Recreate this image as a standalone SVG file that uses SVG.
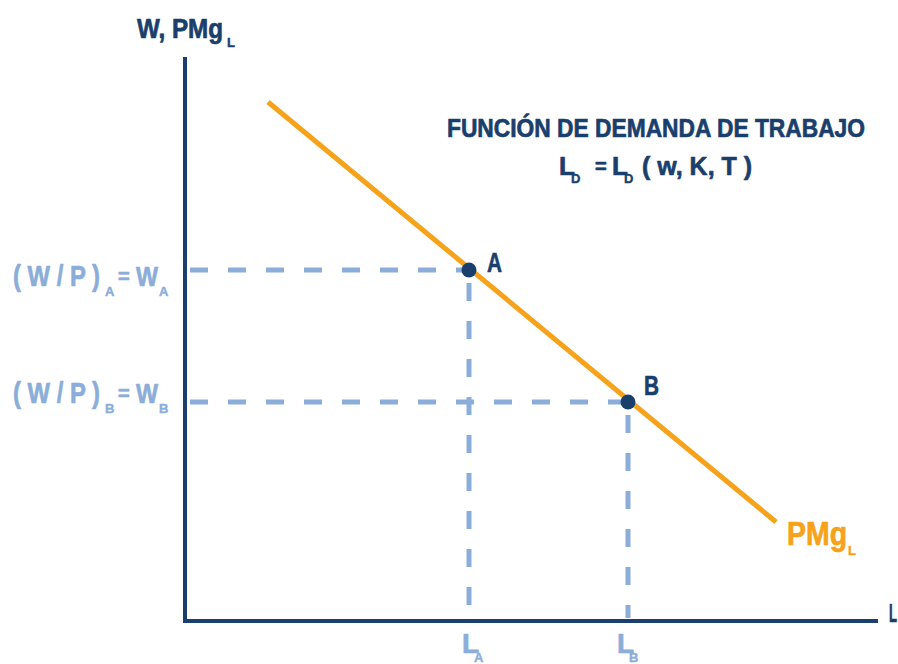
<svg xmlns="http://www.w3.org/2000/svg" width="898" height="664" viewBox="0 0 898 664">
<style>
text{font-family:"Liberation Sans",Arial,sans-serif;font-weight:bold;stroke-width:0.7;stroke-linejoin:round}
.navy{fill:#1b3f6c;stroke:#1b3f6c}
.light{fill:#8badd9;stroke:#8badd9}
.orange{fill:#f7a21b;stroke:#f7a21b}
.axis{stroke:#1b3f6c;stroke-width:4;fill:none}
.dash{stroke:#8badd9;stroke-width:5;stroke-dasharray:18 20;fill:none}
.sub{font-size:13px;stroke-width:0.4}
</style>
<rect width="898" height="664" fill="#fff"/>
<g id="connectors">
<line class="dash" x1="190" y1="270" x2="469" y2="270"/>
<line class="dash" x1="469" y1="283" x2="469" y2="618"/>
<line class="dash" x1="190" y1="402" x2="628" y2="402"/>
<line class="dash" x1="628" y1="415" x2="628" y2="618"/>
<path class="axis" d="M185 57 V621 H878"/>
<line x1="268" y1="102" x2="776" y2="522" stroke="#f7a21b" stroke-width="5"/>
</g>
<g id="yaxis-label">
<text class="navy" x="137" y="38" font-size="27" textLength="86" lengthAdjust="spacingAndGlyphs">W, PMg</text>
<text class="navy sub" x="227" y="47">L</text>
</g>
<g id="xaxis-label"><text class="navy" x="889" y="622" font-size="26" textLength="8" lengthAdjust="spacingAndGlyphs">L</text></g>
<g id="title">
<text class="navy" x="447" y="137" font-size="26" textLength="418" lengthAdjust="spacingAndGlyphs">FUNCIÓN DE DEMANDA DE TRABAJO</text>
<text class="navy" x="559" y="175" font-size="26">L</text>
<text class="navy sub" x="571" y="183">D</text>
<text class="navy" x="595" y="173" font-size="20">=</text>
<text class="navy" x="612" y="175" font-size="26">L</text>
<text class="navy sub" x="624" y="183">D</text>
<text class="navy" x="642" y="175" font-size="26" textLength="110" lengthAdjust="spacingAndGlyphs">( w, K, T )</text>
</g>
<g id="wa-label">
<text class="light" x="13" y="286" font-size="30" textLength="87" lengthAdjust="spacingAndGlyphs">( W / P )</text>
<text class="light sub" x="105" y="296">A</text>
<text class="light" x="118" y="283" font-size="20">=</text>
<text class="light" x="136" y="286" font-size="28" textLength="22" lengthAdjust="spacingAndGlyphs">W</text>
<text class="light sub" x="159" y="296">A</text>
</g>
<g id="wb-label">
<text class="light" x="13" y="403" font-size="30" textLength="87" lengthAdjust="spacingAndGlyphs">( W / P )</text>
<text class="light sub" x="105" y="413">B</text>
<text class="light" x="118" y="400" font-size="20">=</text>
<text class="light" x="136" y="403" font-size="28" textLength="22" lengthAdjust="spacingAndGlyphs">W</text>
<text class="light sub" x="159" y="413">B</text>
</g>
<g id="point-A"><circle cx="469" cy="270" r="7.5" fill="#1b3f6c"/><text class="navy" x="487" y="272" font-size="27" textLength="15" lengthAdjust="spacingAndGlyphs">A</text></g>
<g id="point-B"><circle cx="628" cy="402" r="7.5" fill="#1b3f6c"/><text class="navy" x="644" y="395" font-size="27" textLength="15" lengthAdjust="spacingAndGlyphs">B</text></g>
<g id="la-label">
<text class="light" x="462" y="653" font-size="28">L</text>
<text class="light sub" x="474" y="662">A</text>
</g>
<g id="lb-label">
<text class="light" x="617" y="653" font-size="28">L</text>
<text class="light sub" x="629" y="662">B</text>
</g>
<g id="pmg-label">
<text class="orange" x="787" y="545" font-size="33" textLength="60" lengthAdjust="spacingAndGlyphs">PMg</text>
<text class="orange sub" x="848" y="555">L</text>
</g>
</svg>
